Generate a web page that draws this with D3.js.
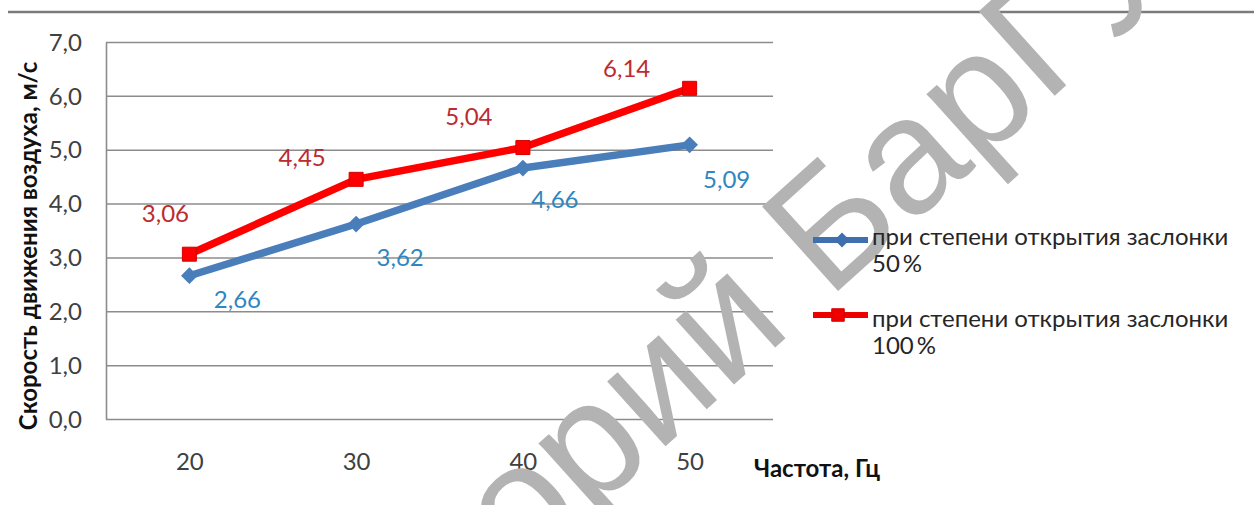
<!DOCTYPE html>
<html>
<head>
<meta charset="utf-8">
<script src="https://cdn.jsdelivr.net/npm/d3@7"></script>
<style>
  html, body { margin: 0; padding: 0; background: #ffffff; }
  svg { display: block; }
</style>
</head>
<body>
<svg id="chart" width="1254" height="505"></svg>
<script>
// ---- data ----
const categories = ["20", "30", "40", "50"];
const valuesHalf = [2.66, 3.62, 4.66, 5.09];   // заслонка открыта на 50 %
const valuesFull = [3.06, 4.45, 5.04, 6.14];   // заслонка открыта на 100 %
const yTicks = [0, 1, 2, 3, 4, 5, 6, 7];
const legendHalf = ["при степени открытия заслонки", "50\u2009%"];
const legendFull = ["при степени открытия заслонки", "100\u2009%"];
const yTitle = "Скорость движения воздуха, м/с";
const xTitle = "Частота, Гц";
const watermarkHead = "Репозиторий ";
const watermarkTail = "БарГУ";

// ---- layout ----
const W = 1254, H = 505;
const plot = { left: 106, right: 773, top: 42, bottom: 419 };
const FONT = "Lato, 'Noto Sans', 'Open Sans', sans-serif";
const FS = 24;
// label offsets from their points (px), one per point
const offsHalf = [[48, 24], [44, 34], [32, 32], [37, 35]];
const offsFull = [[-24, -41], [-54, -22], [-54, -31], [-63, -20]];

const locale = d3.formatLocale({ decimal: ",", thousands: "\u00a0", grouping: [3], currency: ["", ""] });
const f1 = locale.format(".1f");
const f2 = locale.format(".2f");

const svg = d3.select("#chart");
svg.append("rect").attr("width", W).attr("height", H).attr("fill", "#ffffff");

// rule across the top
svg.append("line")
  .attr("x1", 8).attr("x2", W).attr("y1", 12).attr("y2", 12)
  .attr("stroke", "#7b7b7b").attr("stroke-width", 2.5);

const x = d3.scalePoint().domain(categories).range([plot.left, plot.right]).padding(0.5);
const y = d3.scaleLinear().domain([0, 7]).range([plot.bottom, plot.top]);

// y axis with gridlines
const yAxis = svg.append("g")
  .attr("transform", `translate(${plot.left},0)`)
  .call(d3.axisLeft(y).tickValues(yTicks).tickFormat(f1)
    .tickSize(-(plot.right - plot.left)).tickSizeOuter(0).tickPadding(24));
yAxis.select(".domain").attr("stroke", "#8c8c8c").attr("stroke-width", 1.6);
yAxis.selectAll(".tick line").attr("stroke", "#8c8c8c").attr("stroke-width", 1.5);
yAxis.selectAll(".tick text")
  .attr("fill", "#404040").attr("font-family", FONT).attr("font-size", FS)
  .attr("dy", "0.34em");

// x axis labels
const xAxis = svg.append("g")
  .attr("transform", `translate(0,${plot.bottom})`)
  .call(d3.axisBottom(x).tickSize(0).tickPadding(0));
xAxis.select(".domain").remove();
xAxis.selectAll(".tick text")
  .attr("fill", "#404040").attr("font-family", FONT).attr("font-size", FS)
  .attr("y", 51).attr("dy", null);

// watermark
const wm = svg.append("g")
  .attr("transform", "translate(828,300) rotate(-42)")
  .attr("font-family", "'Liberation Sans', Arial, sans-serif")
  .attr("font-size", 165).attr("fill", "#b3b3b3");
wm.append("text").attr("text-anchor", "end").attr("x", 0).attr("y", 0)
  .attr("xml:space", "preserve").text(watermarkHead);
wm.append("text").attr("text-anchor", "start").attr("x", 0).attr("y", 0).text(watermarkTail);

// axis titles
svg.append("text")
  .attr("transform", `translate(37,246) rotate(-90)`)
  .attr("text-anchor", "middle")
  .attr("font-family", FONT).attr("font-size", FS).attr("font-weight", "bold")
  .attr("fill", "#111").text(yTitle);
svg.append("text")
  .attr("x", 754).attr("y", 477)
  .attr("font-family", FONT).attr("font-size", FS).attr("font-weight", "bold")
  .attr("fill", "#111").text(xTitle);

// series
const series = [
  { values: valuesHalf, color: "#4a7ebb", labelColor: "#2f86c0", offs: offsHalf, marker: "diamond" },
  { values: valuesFull, color: "#ff0000", labelColor: "#bd2a30", offs: offsFull, marker: "square" }
];
const line = d3.line().x((d, i) => x(categories[i])).y(d => y(d));

function drawMarker(g, kind, cx, cy, color, scale) {
  if (kind === "square") {
    g.append("path")
      .attr("d", d3.symbol(d3.symbolSquare, 196 * scale)())
      .attr("transform", `translate(${cx},${cy})`)
      .attr("fill", color).attr("stroke", "#d40000").attr("stroke-width", 1);
  } else {
    g.append("path")
      .attr("d", d3.symbol(d3.symbolSquare, 140 * scale)())
      .attr("transform", `translate(${cx},${cy}) rotate(45)`)
      .attr("fill", color);
  }
}

series.forEach(s => {
  const g = svg.append("g");
  g.append("path").datum(s.values)
    .attr("d", line).attr("fill", "none")
    .attr("stroke", s.color).attr("stroke-width", 7.5)
    .attr("stroke-linejoin", "round").attr("stroke-linecap", "butt");
  s.values.forEach((v, i) => drawMarker(g, s.marker, x(categories[i]), y(v), s.color, 1));
  s.values.forEach((v, i) => {
    g.append("text")
      .attr("x", x(categories[i]) + s.offs[i][0])
      .attr("y", y(v) + s.offs[i][1])
      .attr("dy", "0.35em")
      .attr("text-anchor", "middle")
      .attr("font-family", FONT).attr("font-size", FS)
      .attr("fill", s.labelColor).text(f2(v));
  });
});

// legend
const legendItems = [
  { lines: legendHalf, color: "#3f6fae", marker: "diamond", y: 240, textY: 245 },
  { lines: legendFull, color: "#ee0000", marker: "square", y: 315, textY: 327 }
];
legendItems.forEach(it => {
  const g = svg.append("g");
  g.append("line").attr("x1", 813).attr("x2", 868).attr("y1", it.y).attr("y2", it.y)
    .attr("stroke", it.color).attr("stroke-width", 6);
  drawMarker(g, it.marker, it.marker === "square" ? 838 : 842, it.y, it.color, 0.8);
  const t = g.append("text").attr("x", 872).attr("y", it.textY)
    .attr("font-family", FONT).attr("font-size", FS).attr("fill", "#262626");
  it.lines.forEach((ln, k) => {
    t.append("tspan").attr("x", 872).attr("dy", k === 0 ? 0 : 27).text(ln);
  });
});
</script>
</body>
</html>
